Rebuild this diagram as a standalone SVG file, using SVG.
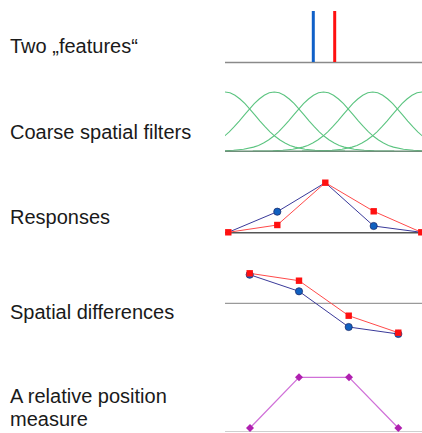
<svg xmlns="http://www.w3.org/2000/svg" xmlns:xlink="http://www.w3.org/1999/xlink" width="422" height="433" viewBox="0 0 422 433">
<style>
text{font-family:"Liberation Sans",Arial,sans-serif;font-size:20px;fill:#1a1a1a}
.gs{fill:none;stroke:#5cc480;stroke-width:1.1}
.bl{fill:none;stroke:#3a3a9a;stroke-width:1}
.rl{fill:none;stroke:#ff4a4a;stroke-width:1}
.rs{fill:#ff1010}
.bc{fill:#1060c0;stroke:#203070;stroke-width:0.8}
.md{fill:#b020b0}
</style>
<defs>
<path id="g" class="gs" d="M-120,151 L-110,151 -100,150.8 -90,150.3 -80,149.3 -70,147.1 -65,145.4 -60,143 -55,140 -50,136.3 -45,131.8 -40,126.7 -35,121.1 -30,115.2 -25,109.3 -20,103.7 -15,99 -10,95.2 -5,92.8 0,92 5,92.8 10,95.2 15,99 20,103.7 25,109.3 30,115.2 35,121.1 40,126.7 45,131.8 50,136.3 55,140 60,143 65,145.4 70,147.1 80,149.3 90,150.3 100,150.8 110,151 120,151"/>
<rect id="sq" x="-3.2" y="-3.2" width="6.4" height="6.4"/>
<path id="dm" d="M0,-4 L4,0 0,4 -4,0Z"/>
<clipPath id="clip2"><rect x="225" y="80" width="197" height="80"/></clipPath>
</defs>

<g id="labels">
<text x="10" y="53">Two „features“</text>
<text x="10" y="139">Coarse spatial filters</text>
<text x="10" y="224">Responses</text>
<text x="10" y="319">Spatial differences</text>
<text x="10" y="403">A relative position</text>
<text x="10" y="426">measure</text>
</g>

<g id="features">
<line x1="225" y1="62.5" x2="422" y2="62.5" stroke="#8a8a8a" stroke-width="1.5"/>
<line x1="313.3" y1="11" x2="313.3" y2="62" stroke="#1060c8" stroke-width="3"/>
<line x1="334.7" y1="11" x2="334.7" y2="62" stroke="#ff1010" stroke-width="3"/>
</g>

<g id="filters">
<g clip-path="url(#clip2)">
<use xlink:href="#g" href="#g" x="225"/>
<use xlink:href="#g" href="#g" x="274.25"/>
<use xlink:href="#g" href="#g" x="323.5"/>
<use xlink:href="#g" href="#g" x="372.75"/>
<use xlink:href="#g" href="#g" x="422"/>
</g>
<line x1="225" y1="151.3" x2="422" y2="151.3" stroke="#6f8f7a" stroke-width="1.4"/>
</g>

<g id="responses">
<line x1="225" y1="232.8" x2="422" y2="232.8" stroke="#555" stroke-width="1.5"/>
<polyline class="bl" points="228.3,232.3 277.3,211.7 325.3,182.7 373.7,226 421.3,232.3"/>
<polyline class="rl" points="228.3,232.3 277.3,225 325.3,182.7 373.7,211.3 421.3,232.3"/>
<circle class="bc" cx="277.3" cy="211.7" r="3.6"/>
<circle class="bc" cx="373.7" cy="226" r="3.6"/>
<use href="#sq" xlink:href="#sq" class="rs" x="228.3" y="232.3"/>
<use href="#sq" xlink:href="#sq" class="rs" x="277.3" y="225"/>
<use href="#sq" xlink:href="#sq" class="rs" x="325.3" y="182.7"/>
<use href="#sq" xlink:href="#sq" class="rs" x="373.7" y="211.3"/>
<use href="#sq" xlink:href="#sq" class="rs" x="421.3" y="232.3"/>
</g>

<g id="differences">
<line x1="225" y1="303.3" x2="422" y2="303.3" stroke="#9a9a9a" stroke-width="1.3"/>
<polyline class="bl" points="249.7,274.7 299,291.3 348.7,327 398.3,334"/>
<polyline class="rl" points="249.7,273.3 299,280.7 348.7,315.7 398.3,332.7"/>
<circle class="bc" cx="249.7" cy="274.7" r="3.6"/>
<circle class="bc" cx="299" cy="291.3" r="3.6"/>
<circle class="bc" cx="348.7" cy="327" r="3.6"/>
<circle class="bc" cx="398.3" cy="334" r="3.6"/>
<use href="#sq" xlink:href="#sq" class="rs" x="249.7" y="273.3"/>
<use href="#sq" xlink:href="#sq" class="rs" x="299" y="280.7"/>
<use href="#sq" xlink:href="#sq" class="rs" x="348.7" y="315.7"/>
<use href="#sq" xlink:href="#sq" class="rs" x="398.3" y="332.7"/>
</g>

<g id="measure">
<line x1="225" y1="431.5" x2="422" y2="431.5" stroke="#cfcfcf" stroke-width="1.2"/>
<polyline fill="none" stroke="#d070d8" stroke-width="1.2" points="250,428 299,377.3 349,377.3 398.3,428"/>
<use href="#dm" xlink:href="#dm" class="md" x="250" y="428"/>
<use href="#dm" xlink:href="#dm" class="md" x="299" y="377.3"/>
<use href="#dm" xlink:href="#dm" class="md" x="349" y="377.3"/>
<use href="#dm" xlink:href="#dm" class="md" x="398.3" y="428"/>
</g>
</svg>
